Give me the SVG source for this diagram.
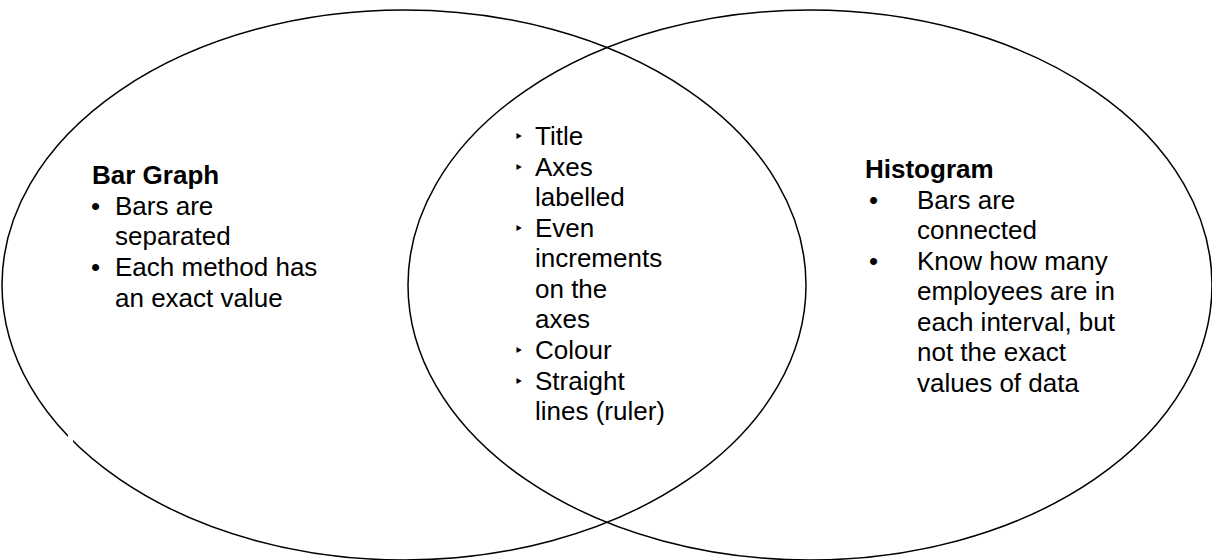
<svg xmlns="http://www.w3.org/2000/svg" width="1212" height="560" viewBox="0 0 1212 560">
<style>
.shape{fill:none;stroke:#000;stroke-width:1.5}
text{font-family:"Liberation Sans",Arial,sans-serif;font-size:26px;fill:#000}
.h{font-weight:bold}
.tb{font-family:"DejaVu Sans",sans-serif;font-size:16px}
</style>
<rect width="1212" height="560" fill="#fff"/>
<g id="bar-graph">
<ellipse class="shape" cx="404" cy="285" rx="402" ry="275"/>
<text class="h" x="92" y="184">Bar Graph</text>
<text x="91" y="215">•</text><text x="115" y="215">Bars are</text>
<text x="115" y="245">separated</text>
<text x="91" y="276">•</text><text x="115" y="276">Each method has</text>
<text x="115" y="307">an exact value</text>
</g>
<g id="histogram">
<ellipse class="shape" cx="810" cy="285" rx="402" ry="275"/>
<text class="h" x="865" y="178">Histogram</text>
<text x="869" y="209">•</text><text x="917" y="209">Bars are</text>
<text x="917" y="239">connected</text>
<text x="869" y="270">•</text><text x="917" y="270">Know how many</text>
<text x="917" y="300">employees are in</text>
<text x="917" y="331">each interval, but</text>
<text x="917" y="361">not the exact</text>
<text x="917" y="392">values of data</text>
</g>
<g id="both">
<text class="tb" x="514" y="142">‣</text><text x="535" y="145">Title</text>
<text class="tb" x="514" y="173">‣</text><text x="535" y="176">Axes</text>
<text x="535" y="206">labelled</text>
<text class="tb" x="514" y="234">‣</text><text x="535" y="237">Even</text>
<text x="535" y="267">increments</text>
<text x="535" y="298">on the</text>
<text x="535" y="328">axes</text>
<text class="tb" x="514" y="356">‣</text><text x="535" y="359">Colour</text>
<text class="tb" x="514" y="387">‣</text><text x="535" y="390">Straight</text>
<text x="535" y="420">lines (ruler)</text>
</g>
<g id="connectors"/>
<rect x="68" y="434" width="5" height="9" fill="#fff"/>
</svg>
